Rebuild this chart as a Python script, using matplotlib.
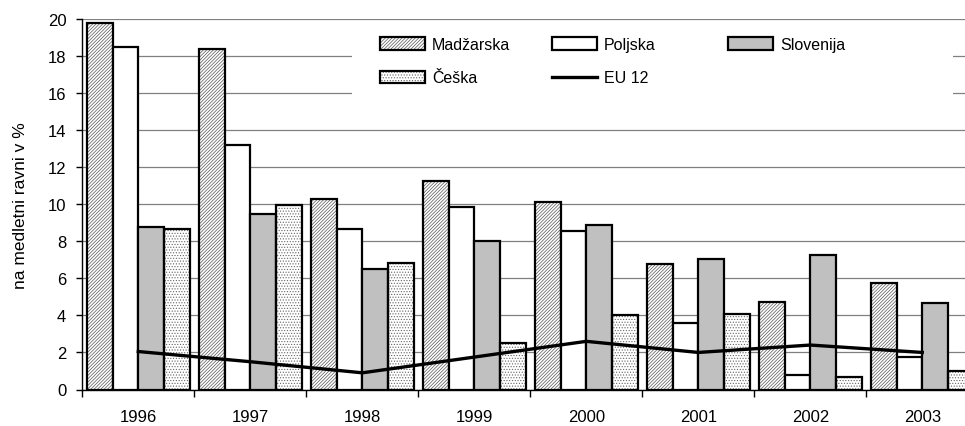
import numpy as np
import matplotlib.pyplot as plt
from matplotlib.patches import Rectangle
from matplotlib.legend_handler import HandlerTuple

plt.rcParams['font.family'] = ['Liberation Sans', 'DejaVu Sans']
plt.rcParams['font.size'] = 12
plt.rcParams['hatch.linewidth'] = 0.5

# data
years = ['1996', '1997', '1998', '1999', '2000', '2001', '2002', '2003']
madzarska = [19.8, 18.4, 10.3, 11.25, 10.1, 6.8, 4.75, 5.75]
poljska = [18.5, 13.2, 8.65, 9.85, 8.55, 3.6, 0.77, 1.75]
slovenija = [8.75, 9.45, 6.5, 8.0, 8.9, 7.05, 7.25, 4.65]
ceska = [8.65, 9.95, 6.85, 2.5, 4.0, 4.1, 0.66, 1.0]
eu12 = [2.05, 1.5, 0.9, 1.75, 2.6, 2.0, 2.4, 2.0]

W, H = 965, 427
fig = plt.figure(figsize=(W / 100, H / 100), dpi=100)
ax = fig.add_axes([82.3 / W, 1 - 390.5 / H, (978.3 - 82.3) / W, (390.5 - 20) / H])

x = np.arange(len(years))
w = 0.23
offs = [-1.5 * w, -0.5 * w, 0.5 * w, 1.5 * w]

# hatched fills first, then black outlines on top
h_mad = ax.bar(x + offs[0], madzarska, w, facecolor='white', edgecolor='#555555',
               hatch='//////////', linewidth=0, zorder=2)
e_mad = ax.bar(x + offs[0], madzarska, w, fill=False, edgecolor='black', linewidth=1.6, zorder=3)
b_pol = ax.bar(x + offs[1], poljska, w, facecolor='white', edgecolor='black', linewidth=1.6, zorder=3)
b_slo = ax.bar(x + offs[2], slovenija, w, facecolor='#c0c0c0', edgecolor='black', linewidth=1.6, zorder=3)
h_ces = ax.bar(x + offs[3], ceska, w, facecolor='white', edgecolor='#666666',
               hatch='......', linewidth=0, zorder=2)
e_ces = ax.bar(x + offs[3], ceska, w, fill=False, edgecolor='black', linewidth=1.6, zorder=3)

line, = ax.plot(x, eu12, color='black', linewidth=2.4, zorder=4)

ax.set_xlim(-0.5, 7.5)
ax.set_ylim(0, 20)
ax.set_yticks(np.arange(0, 21, 2))
ax.yaxis.grid(True, color='#808080', linewidth=0.9)
ax.set_axisbelow(True)

ax.set_xticks(x)
ax.set_xticklabels(years)
ax.set_xticks(np.arange(-0.5, 8, 1), minor=True)
ax.tick_params(axis='x', which='major', length=0, pad=14, labelsize=12)
ax.tick_params(axis='x', which='minor', length=5, width=1, direction='out')
ax.tick_params(axis='y', length=4.5, width=1, pad=7, labelsize=12)

ax.spines['top'].set_visible(False)
ax.spines['right'].set_visible(False)
ax.spines['left'].set_linewidth(1.0)
ax.spines['bottom'].set_linewidth(1.0)

ax.set_ylabel('na medletni ravni v %', fontsize=12.5, labelpad=14)

# white legend area hiding the gridlines
fig.patches.append(Rectangle((352 / W, 1 - 102 / H), (953 - 352) / W, 66 / H,
                             transform=fig.transFigure, facecolor='white',
                             edgecolor='none', zorder=1))

# three legend columns with equal spacing, as in the reference
cols = [
    ([(h_mad[0], e_mad[0]), (h_ces[0], e_ces[0])], ['Madžarska', 'Češka'], 380),
    ([b_pol[0], line], ['Poljska', 'EU 12'], 552),
    ([b_slo[0]], ['Slovenija'], 728),
]
for hs, ls, px in cols:
    leg = fig.legend(hs, ls, loc='upper left', bbox_to_anchor=(px / W, 1 - 38 / H),
                     handler_map={tuple: HandlerTuple(ndivide=1)},
                     handlelength=2.8, handleheight=0.8, handletextpad=0.45,
                     labelspacing=1.15, frameon=False, borderpad=0,
                     borderaxespad=0, fontsize=11.5)
    leg.set_zorder(5)

fig.savefig('out.png', dpi=100)
